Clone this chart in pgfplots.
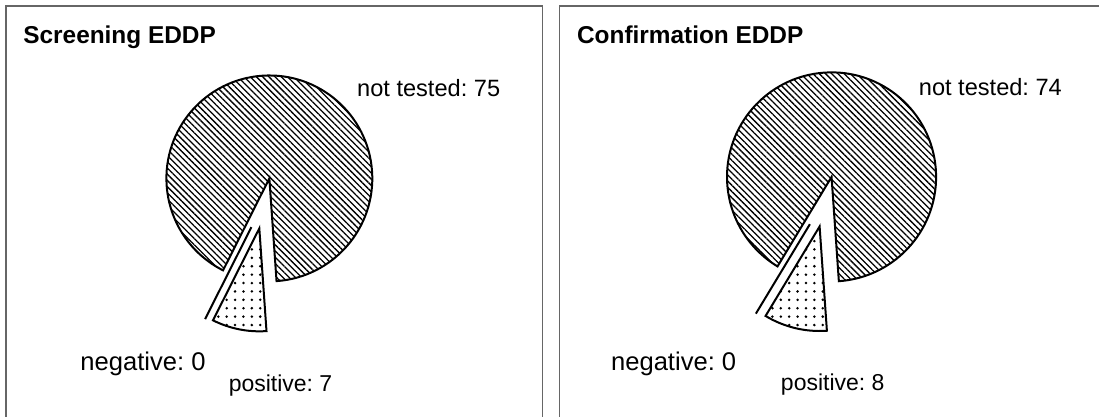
\documentclass[border=0pt]{standalone}
\usepackage{pgfplots}
\pgfplotsset{compat=1.18}
\usetikzlibrary{patterns.meta}
\usepackage{fontspec}
\setmainfont{Liberation Sans}
\frenchspacing

% pie values (not tested, negative, positive)
\newcommand{\leftNT}{75}\newcommand{\leftNeg}{0}\newcommand{\leftPos}{7}
\newcommand{\rightNT}{74}\newcommand{\rightNeg}{0}\newcommand{\rightPos}{8}

\tikzset{
  ntstyle/.style={draw=black, line width=1pt, pattern={Lines[angle=-45, distance=2.2pt, line width=0.65pt]}},
  posstyle/.style={draw=black, line width=1pt, pattern={Dots[distance=4.2pt, radius=0.7pt]}},
  negstyle/.style={draw=black, line width=1pt},
  frame/.style={draw=black!60, line width=0.6pt},
}

% #1 cx, #2 cy (image px), #3 radius (pt), #4 start angle, #5 NT, #6 Neg, #7 Pos
\newcommand{\drawpie}[7]{%
  \pgfmathsetmacro{\tot}{#5+#6+#7}%
  \pgfmathsetmacro{\aA}{#4}%
  \pgfmathsetmacro{\aB}{#4+360/\tot*#5}%
  \pgfmathsetmacro{\aC}{\aB+360/\tot*#6}%
  \pgfmathsetmacro{\aD}{\aC+360/\tot*#7}%
  \pgfmathsetmacro{\negdir}{(\aB+\aC)/2+6.5}%
  \pgfmathsetmacro{\posdir}{(\aC+\aD)/2}%
  \edef\piecmds{%
    \noexpand\path[ntstyle] (axis cs:#1,#2) -- ++(\aA:#3) arc[start angle=\aA, end angle=\aB, radius=#3] -- cycle;
    \noexpand\path[negstyle] (axis cs:#1,#2) ++(\negdir:26pt) -- ++(\aB:#3);
    \noexpand\path[posstyle] (axis cs:#1,#2) ++(\posdir:25.5pt) -- ++(\aC:#3) arc[start angle=\aC, end angle=\aD, radius=#3] -- cycle;
  }%
}

\pgfplotsset{panel/.style={
  at={(0,0)}, anchor=origin,
  scale only axis, width=550pt, height=208.5pt,
  xmin=0, xmax=1100, ymin=0, ymax=417, y dir=reverse,
  hide axis, clip=false,
}}

\begin{document}
\begin{tikzpicture}
\drawpie{269.5}{178.5}{51.5pt}{-86}{\leftNT}{\leftNeg}{\leftPos}
\let\leftpie\piecmds
\drawpie{832}{177}{52.3pt}{-86}{\rightNT}{\rightNeg}{\rightPos}
\let\rightpie\piecmds
\begin{axis}[panel, name=left]
  \addplot[draw=none] coordinates {(0,0) (1100,417)};
  \path[frame] (axis cs:6,417) -- (axis cs:6,6) -- (axis cs:543,6) -- (axis cs:543,417);
  \leftpie
  \node[anchor=base west, font=\fontsize{12.2pt}{14pt}\selectfont\bfseries, inner sep=0pt] at (axis cs:23,44) {Screening EDDP};
  \node[anchor=base west, font=\fontsize{11.8pt}{14pt}\selectfont, inner sep=0pt] at (axis cs:357,97) {not tested: 75};
  \node[anchor=base west, font=\fontsize{12.8pt}{14pt}\selectfont, inner sep=0pt] at (axis cs:80,371) {negative: 0};
  \node[anchor=base west, font=\fontsize{11.5pt}{14pt}\selectfont, inner sep=0pt] at (axis cs:228.5,392) {positive: 7};
\end{axis}
\begin{axis}[panel, name=right]
  \addplot[draw=none] coordinates {(0,0) (1100,417)};
  \path[frame] (axis cs:560,417) -- (axis cs:560,6) -- (axis cs:1100,6);
  \rightpie
  \node[anchor=base west, font=\fontsize{12.2pt}{14pt}\selectfont\bfseries, inner sep=0pt] at (axis cs:577,44) {Confirmation EDDP};
  \node[anchor=base west, font=\fontsize{11.8pt}{14pt}\selectfont, inner sep=0pt] at (axis cs:919,96) {not tested: 74};
  \node[anchor=base west, font=\fontsize{12.8pt}{14pt}\selectfont, inner sep=0pt] at (axis cs:611,371) {negative: 0};
  \node[anchor=base west, font=\fontsize{11.5pt}{14pt}\selectfont, inner sep=0pt] at (axis cs:781,391) {positive: 8};
\end{axis}
\end{tikzpicture}
\end{document}
